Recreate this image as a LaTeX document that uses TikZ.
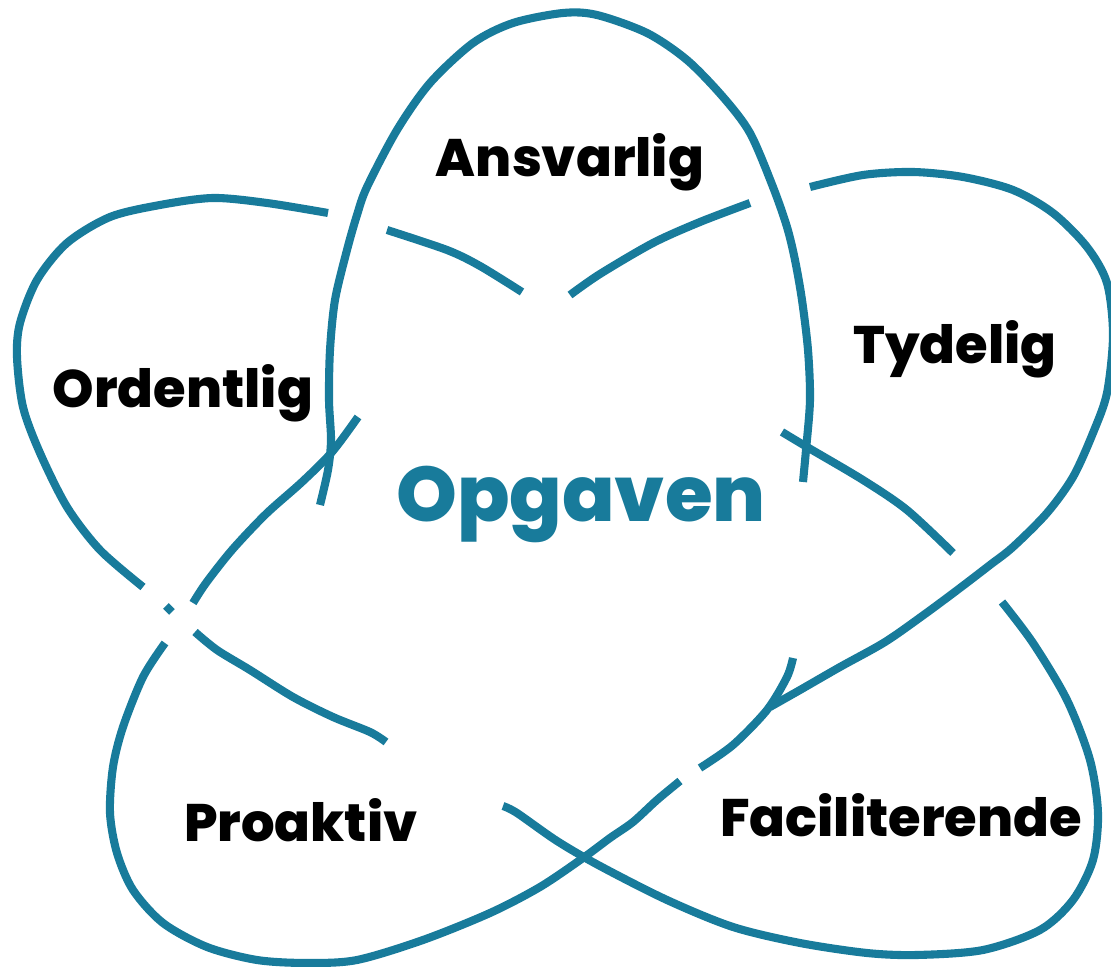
\documentclass[tikz,border=0pt]{standalone}
\usepackage{fontspec}
\IfFontExistsTF{Poppins ExtraBold}{\newfontfamily\labelfont{Poppins ExtraBold}}{\newfontfamily\labelfont{Poppins}[UprightFont={* Bold}, FakeBold=2]}
\definecolor{petalblue}{RGB}{24,123,155}
\tikzset{
  petal/.style={draw=petalblue, line width=2.3pt},
  lbl/.style={anchor=base, font=\labelfont\fontsize{15}{18}\selectfont},
  centre/.style={anchor=base, text=petalblue, font=\labelfont\fontsize{22}{26}\selectfont},
}

\begin{document}
\begin{tikzpicture}[x=0.01cm, y=-0.01cm]
  \clip (0,0) rectangle (1111,967);
  % top
  \draw[petal] plot[smooth] coordinates {(320,505) (328,470) (331,440) (329,400) (330,350) (335,300) (347,250) (357,215) (367,187) (397,130) (430,83) (473,43) (513,23) (563,13) (597,15) (647,33) (687,60) (723,97) (750,133) (773,187) (787,227) (795,260) (802,300) (808,350) (810,400) (806,450) (803,482)};
  % left
  \draw[petal] plot[smooth] coordinates {(387,230) (447,250) (480,266) (522,292)};
  \draw[petal] plot[smooth] coordinates {(328,213) (267,203) (213,198) (160,205) (110,217) (67,243) (37,280) (20,323) (17,357) (23,407) (40,453) (67,507) (100,550) (143,587)};
  \draw[petal] (166,606) -- (172,612);
  \draw[petal] plot[smooth] coordinates {(195,632) (217,650) (250,670) (293,697) (333,717) (370,732) (386,742)};
  % right
  \draw[petal] plot[smooth] coordinates {(570,295) (600,274) (653,243) (700,222) (750,203)};
  \draw[petal] plot[smooth] coordinates {(810,187) (863,175) (913,172) (963,177) (1013,190) (1053,213) (1087,247) (1107,283) (1113,335) (1107,393) (1093,433) (1073,477) (1047,513) (1013,547) (990,565) (960,588) (925,614) (885,642) (840,667) (800,690) (770,707)};
  % lower right
  \draw[petal] plot[smooth] coordinates {(782,432) (807,447) (863,480) (907,510) (953,553)};
  \draw[petal] plot[smooth] coordinates {(1002,602) (1033,643) (1067,700) (1090,760) (1098,813) (1093,860) (1073,900) (1040,930) (983,950) (917,955) (867,953) (800,943) (733,927) (667,900) (600,866) (557,841) (517,813) (503,806)};
  % lower left
  \draw[petal] plot[smooth] coordinates {(358,417) (332,452) (302,482) (266,514) (232,550) (206,583) (193,603)};
  \draw[petal] plot[smooth] coordinates {(165,643) (143,677) (123,727) (113,767) (110,813) (117,853) (133,890) (163,923) (207,947) (257,960) (307,963) (357,960) (423,940) (490,913) (540,887) (583,858) (610,838) (633,822) (657,800) (680,781)};
  \draw[petal] plot[smooth] coordinates {(700,768) (733,745) (767,710) (787,677) (793,658)};

  \node[lbl] (ansvarlig) at (570,177) {Ansvarlig};
  \node[lbl] (tydelig) at (955,364) {Tydelig};
  \node[lbl] (ordentlig) at (183,408) {Ordentlig};
  \node[lbl] (proaktiv) at (301,842) {Proaktiv};
  \node[lbl] (faciliterende) at (901,837) {Faciliterende};
  \node[centre] (opgaven) at (581,522) {Opgaven};
\end{tikzpicture}
\end{document}
